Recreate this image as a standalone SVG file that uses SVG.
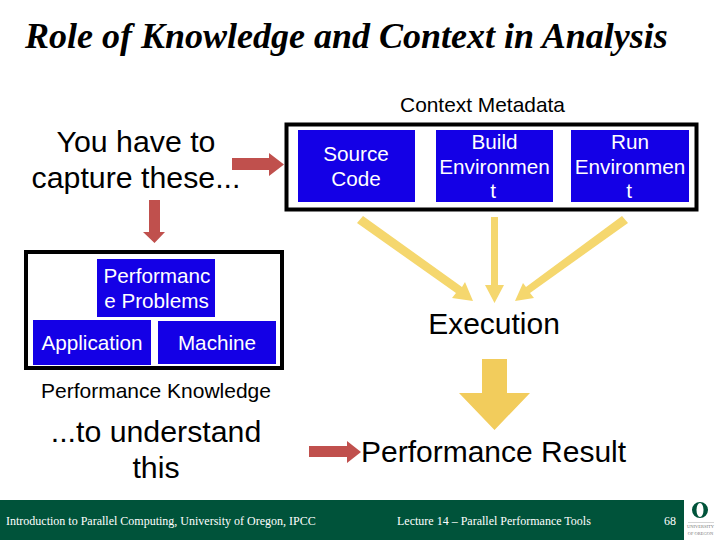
<svg xmlns="http://www.w3.org/2000/svg" width="720" height="540" viewBox="0 0 720 540">
<style>
.s{font-family:"Liberation Sans",Arial,sans-serif;fill:#000}
.w{font-family:"Liberation Sans",Arial,sans-serif;fill:#fff;font-size:20.700px;text-anchor:middle}
.f{font-family:"Liberation Serif","Times New Roman",serif;fill:#fff;font-size:12px}
.b{fill:#1400e6}
.o{fill:#fff;stroke:#000;stroke-width:4}
.r{fill:#c0504d}
.y{fill:#f5d76e}
.m{text-anchor:middle}
.l{font-family:"Liberation Serif",serif;font-size:4.500px;fill:#777;text-anchor:middle}
</style>
<rect width="720" height="540" fill="#fff"/>
<text x="25" y="48" font-family="'Liberation Serif','Times New Roman',serif" font-weight="bold" font-style="italic" font-size="36px">Role of Knowledge and Context in Analysis</text>
<text class="s m" x="482.500" y="112" font-size="20.900px">Context Metadata</text>
<text class="s m" x="136" y="152" font-size="30.300px">You have to</text>
<text class="s m" x="136" y="188" font-size="30.300px">capture these...</text>
<g id="context-box"><rect class="o" x="286.500" y="124.500" width="410" height="85"/></g>
<g id="source-code"><rect class="b" x="298" y="130" width="117" height="72"/><text class="w" x="356" y="161">Source</text><text class="w" x="356" y="186">Code</text></g>
<g id="build-env"><rect class="b" x="436" y="130" width="117" height="72"/><text class="w" x="494.500" y="149">Build</text><text class="w" x="494.500" y="174">Environmen</text><text class="w" x="493" y="198">t</text></g>
<g id="run-env"><rect class="b" x="571" y="130" width="118" height="72"/><text class="w" x="630" y="149">Run</text><text class="w" x="630" y="174">Environmen</text><text class="w" x="629" y="198">t</text></g>
<g id="knowledge-box"><rect class="o" x="26" y="252" width="256" height="116"/></g>
<g id="perf-problems"><rect class="b" x="97" y="259" width="118" height="58"/><text class="w" x="157" y="283">Performanc</text><text class="w" x="156.500" y="308">e Problems</text></g>
<g id="application"><rect class="b" x="33" y="320" width="118" height="45"/><text class="w" x="92" y="350">Application</text></g>
<g id="machine"><rect class="b" x="158" y="321" width="118" height="43"/><text class="w" x="217" y="350">Machine</text></g>
<text class="s m" x="156" y="398" font-size="21px">Performance Knowledge</text>
<text class="s m" x="156" y="442" font-size="30.300px">...to understand</text>
<text class="s m" x="156" y="478" font-size="30.300px">this</text>
<text class="s m" x="494" y="334" font-size="30px">Execution</text>
<text class="s" x="361" y="462" font-size="30px">Performance Result</text>
<g id="connectors">
<path class="r" d="M232 158H269V153L284 164.500 269 176V170H232Z"/>
<path class="r" d="M149 200H160V232H165L154.500 243 143 232H149Z"/>
<path class="r" d="M309 446H347V441L361 452 347 463V457H309Z"/>
<path class="y" d="M363 216L462 287 465 282 473 301 452 298 456 293 357 223Z"/>
<path class="y" d="M491 217H498V285H504L494.500 303 485 285H491Z"/>
<path class="y" d="M622 216L628 223 530 293 534 298 515 301 523 283 526 287Z"/>
<path fill="#f2cc5c" d="M482 359H507V393H530L494.500 430 459 393H482Z"/>
</g>
<g id="footer">
<rect x="0" y="500" width="684" height="40" fill="#00533a"/>
<text class="f" x="6" y="525">Introduction to Parallel Computing, University of Oregon, IPCC</text>
<text class="f" x="397" y="525">Lecture 14 – Parallel Performance Tools</text>
<text class="f" x="664" y="525">68</text>
</g>
<g id="logo">
<path fill="#00533a" fill-rule="evenodd" d="M692 510a8 8 0 1 0 16 0a8 8 0 1 0-16 0ZM696.500 510a3.500 7 0 1 1 7 0a3.500 7 0 1 1-7 0Z"/>
<rect x="688" y="522" width="26" height="0.600" fill="#bbb"/>
<text class="l" x="700.500" y="528">UNIVERSITY</text>
<text class="l" x="700.500" y="535">OF OREGON</text>
</g>
</svg>
